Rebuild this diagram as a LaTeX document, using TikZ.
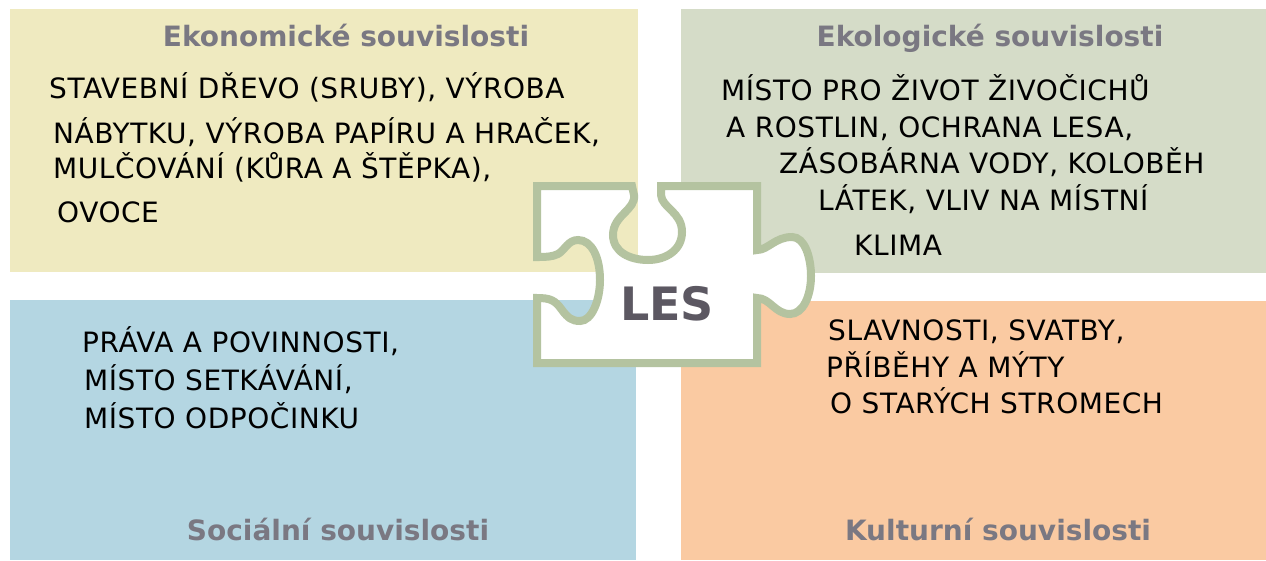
\documentclass[tikz,border=0pt]{standalone}
\usepackage{fontspec}
\setmainfont{DejaVu Sans}
\newfontfamily\handfont[LetterSpace=2]{DejaVu Sans}

\definecolor{ekoyellow}{RGB}{239,234,192}
\definecolor{eklgreen}{RGB}{213,220,200}
\definecolor{socblue}{RGB}{180,214,226}
\definecolor{kulorange}{RGB}{250,202,162}
\definecolor{puzzleline}{RGB}{180,195,160}
\definecolor{titlegrey}{RGB}{122,120,130}
\definecolor{lesgrey}{RGB}{92,88,98}

\tikzset{
  heading/.style={font=\fontsize{28}{32}\selectfont\bfseries, text=titlegrey, anchor=base, inner sep=0pt},
  hand/.style={font=\handfont\fontsize{28}{32}\selectfont, anchor=base west, inner sep=0pt},
}

\begin{document}
\begin{tikzpicture}[x=1pt, y=-1pt]
	\useasboundingbox (0, 0) rectangle (1266, 560);
	\fill[white] (0, 0) rectangle (1266, 560);
	
	% ctyri oblasti
	\fill[ekoyellow] (10, 9) rectangle (638, 272);
	\fill[eklgreen] (681, 9) rectangle (1266, 273);
	\fill[socblue] (10, 300) rectangle (636, 560);
	\fill[kulorange] (681, 301) rectangle (1266, 560);
	
	% dilek puzzle
	\filldraw[fill=white, draw=puzzleline, line width=8pt]
		(537, 186) -- (632, 186) -- (634, 195)
		.. controls (636, 210) and (613, 215) .. (613, 235)
		.. controls (613, 252) and (630, 260) .. (648, 260)
		.. controls (666, 260) and (682, 250) .. (682, 232)
		.. controls (682, 212) and (662, 208) .. (661, 195)
		-- (661, 186) -- (757, 186) -- (757, 250)
		.. controls (768, 250) and (775, 237) .. (792, 237)
		.. controls (805, 237) and (811, 258) .. (811, 276)
		.. controls (811, 296) and (803, 314) .. (790, 314)
		.. controls (775, 314) and (770, 298) .. (757, 298)
		-- (757, 363) -- (537, 363) -- (537, 298)
		.. controls (550, 298) and (555, 300) .. (562, 310)
		.. controls (568, 318) and (572, 321) .. (580, 321)
		.. controls (592, 321) and (600, 300) .. (600, 280)
		.. controls (600, 258) and (592, 240) .. (578, 240)
		.. controls (568, 240) and (565, 250) .. (558, 254)
		.. controls (552, 257) and (545, 257) .. (537, 257) -- cycle;
	\node[font=\fontsize{46}{50}\selectfont\bfseries, text=lesgrey] (les) at (667, 304) {LES};
	
	% nadpisy
	\node[heading] (eko) at (346, 46) {Ekonomické souvislosti};
	\node[heading] (ekl) at (990, 46) {Ekologické souvislosti};
	\node[heading] (soc) at (338, 540) {Sociální souvislosti};
	\node[heading] (kul) at (998, 540) {Kulturní souvislosti};
	
	% rucne psany text
	\foreach \x/\y/\t [count=\i] in {49/98/{STAVEBNÍ DŘEVO (SRUBY), VÝROBA},
			53/143/{NÁBYTKU, VÝROBA PAPÍRU A HRAČEK,},
			53/178/{MULČOVÁNÍ (KŮRA A ŠTĚPKA),},
			57/222/{OVOCE}}
		\node[hand] (ekotext\i) at (\x, \y) {\t};
	\foreach \x/\y/\t [count=\i] in {721/100/{MÍSTO PRO ŽIVOT ŽIVOČICHŮ},
			726/137/{A ROSTLIN, OCHRANA LESA,},
			779/173/{ZÁSOBÁRNA VODY, KOLOBĚH},
			818/210/{LÁTEK, VLIV NA MÍSTNÍ},
			854/255/{KLIMA}}
		\node[hand] (ekltext\i) at (\x, \y) {\t};
	\foreach \x/\y/\t [count=\i] in {82/352/{PRÁVA A POVINNOSTI,},
			84/390/{MÍSTO SETKÁVÁNÍ,},
			84/428/{MÍSTO ODPOČINKU}}
		\node[hand] (soctext\i) at (\x, \y) {\t};
	\foreach \x/\y/\t [count=\i] in {828/340/{SLAVNOSTI, SVATBY,},
			826/377/{PŘÍBĚHY A MÝTY},
			830/413/{O STARÝCH STROMECH}}
		\node[hand] (kultext\i) at (\x, \y) {\t};
\end{tikzpicture}
\end{document}
